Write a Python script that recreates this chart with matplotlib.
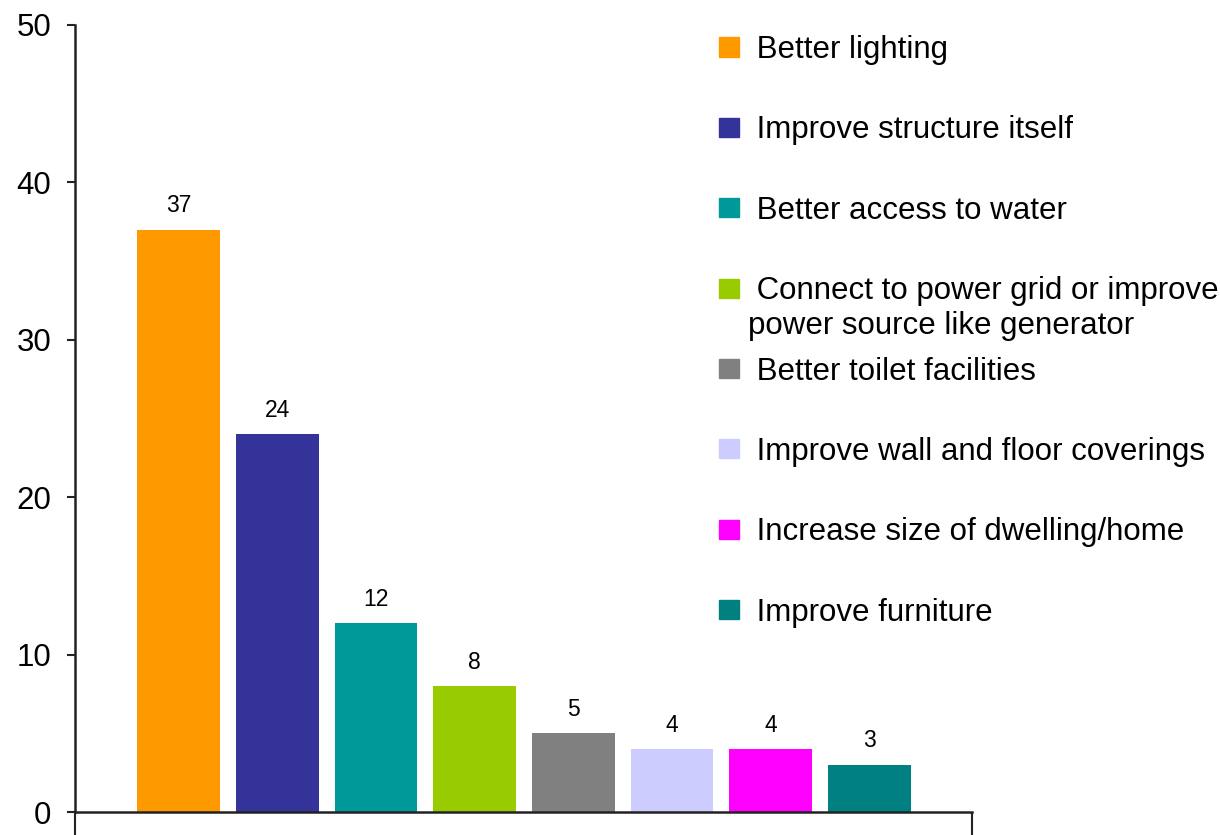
import matplotlib.pyplot as plt
from matplotlib.patches import Rectangle

plt.rcParams['font.family'] = ['Liberation Sans', 'DejaVu Sans']

categories = ['Better lighting', 'Improve structure itself', 'Better access to water',
              'Connect to power grid or improve\npower source like generator',
              'Better toilet facilities', 'Improve wall and floor coverings',
              'Increase size of dwelling/home', 'Improve furniture']
values = [37, 24, 12, 8, 5, 4, 4, 3]
colors = ['#FF9900', '#333399', '#009999', '#99CC00', '#808080', '#CCCCFF', '#FF00FF', '#008080']
yticks = [0, 10, 20, 30, 40, 50]

W, H = 1220, 835
fig = plt.figure(figsize=(W / 100, H / 100), dpi=100)
ax = fig.add_axes([75 / W, 1 - 812 / H, (972 - 75) / W, (812 - 25) / H])

x = list(range(len(values)))
ax.bar(x, values, width=0.84, color=colors)
for xi, v in zip(x, values):
    ax.annotate(str(v), (xi, v), xytext=(0, 9), textcoords='offset points',
                ha='center', va='bottom', fontsize=16.5)

xlim = (-1.05, len(values) - 1 + 1.04)
ax.set_xlim(xlim)
ax.set_ylim(0, 50)
ax.set_yticks(yticks)
ax.tick_params(axis='y', labelsize=22.5, length=6, width=1.5, pad=11, color='#222222')
ax.set_xticks(xlim)
ax.set_xticklabels(['', ''])
ax.tick_params(axis='x', length=17, width=1.5, color='#222222')
for s in ['top', 'right']:
    ax.spines[s].set_visible(False)
for s in ['left', 'bottom']:
    ax.spines[s].set_linewidth(1.8)
    ax.spines[s].set_color('#222222')

# legend drawn by hand to mimic the original spacing
for i, (lab, c) in enumerate(zip(categories, colors)):
    yc = 47 + i * 80.4
    fig.patches.append(Rectangle((719 / W, 1 - (yc + 9.5) / H), 20 / W, 19 / H,
                                 transform=fig.transFigure, color=c))
    for j, line in enumerate(lab.split('\n')):
        txt = ' ' + line if j == 0 else line
        fig.text(748 / W, 1 - (yc + 11 + 35 * j) / H, txt, fontsize=22.5,
                 va='baseline', ha='left')

fig.savefig('out.png', dpi=100)
